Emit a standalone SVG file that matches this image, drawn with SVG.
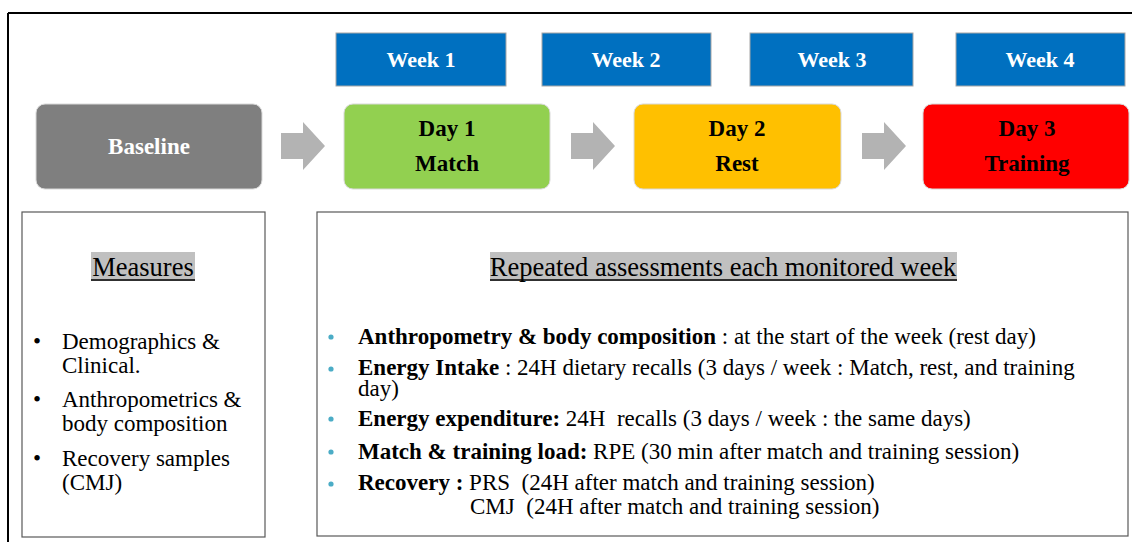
<svg xmlns="http://www.w3.org/2000/svg" width="1132" height="542" viewBox="0 0 1132 542">
  <style>
    .wk { fill: #0070c0; stroke: #a6a6a6; stroke-width: 1; }
    .wkt { font-family: "Liberation Serif", "DejaVu Serif", serif; font-weight: bold; font-size: 22px; fill: #ffffff; text-anchor: middle; }
    .day { stroke: #d9d9d9; stroke-width: 1; }
    .dayt { font-family: "Liberation Serif", "DejaVu Serif", serif; font-weight: bold; font-size: 23px; fill: #000000; text-anchor: middle; }
    .arrow { fill: #b3b3b3; }
    .panel { fill: #ffffff; stroke: #595959; stroke-width: 1.2; }
    .txt { font-family: "Liberation Serif", "DejaVu Serif", serif; font-size: 23px; fill: #000000; }
    .ttl { font-family: "Liberation Serif", "DejaVu Serif", serif; font-size: 26.5px; fill: #000000; text-anchor: middle; }
    .b { font-weight: bold; }
    .hl { fill: #c0c0c0; }
    .ul { stroke: #000000; stroke-width: 1.4; }
    .dot { fill: #4bacc6; }
  </style>

  <rect width="1132" height="542" fill="#ffffff"/>

  <!-- outer frame edges -->
  <line x1="8" y1="13" x2="1132" y2="13" stroke="#000000" stroke-width="2"/>
  <line x1="8" y1="13" x2="8" y2="542" stroke="#000000" stroke-width="2"/>

  <!-- week headers -->
  <g id="week1"><rect class="wk" x="336" y="33" width="170" height="53"/><text class="wkt" x="421" y="67">Week 1</text></g>
  <g id="week2"><rect class="wk" x="542" y="33" width="169" height="53"/><text class="wkt" x="626" y="67">Week 2</text></g>
  <g id="week3"><rect class="wk" x="750" y="33" width="163" height="53"/><text class="wkt" x="832" y="67">Week 3</text></g>
  <g id="week4"><rect class="wk" x="956" y="33" width="169" height="53"/><text class="wkt" x="1040" y="67">Week 4</text></g>

  <!-- phase boxes -->
  <g id="baseline"><rect class="day" x="36" y="104" width="226" height="85" rx="9" fill="#7f7f7f"/><text class="dayt" x="149" y="154" style="fill:#ffffff">Baseline</text></g>
  <g id="day1"><rect class="day" x="344" y="104" width="206" height="85" rx="9" fill="#92d050"/><text class="dayt" x="447" y="136">Day 1</text><text class="dayt" x="447" y="171">Match</text></g>
  <g id="day2"><rect class="day" x="634" y="104" width="207" height="85" rx="9" fill="#ffc000"/><text class="dayt" x="737" y="136">Day 2</text><text class="dayt" x="737" y="171">Rest</text></g>
  <g id="day3"><rect class="day" x="923" y="104" width="206" height="85" rx="9" fill="#ff0000"/><text class="dayt" x="1027" y="136">Day 3</text><text class="dayt" x="1027" y="171">Training</text></g>

  <!-- connectors -->
  <g id="connectors">
    <polygon class="arrow" points="281,133 303,133 303,122 325,146 303,170 303,159 281,159"/>
    <polygon class="arrow" points="571,133 593,133 593,122 615,146 593,170 593,159 571,159"/>
    <polygon class="arrow" points="862,133 884,133 884,122 906,146 884,170 884,159 862,159"/>
  </g>

  <!-- baseline measures panel -->
  <g id="measures">
    <rect class="panel" x="22" y="212" width="243" height="325"/>
    <rect class="hl" x="91" y="252" width="104" height="29"/>
    <text class="ttl" x="143" y="276">Measures</text>
    <line class="ul" x1="91" y1="280" x2="195" y2="280"/>
    <text class="txt" x="33" y="349">•</text>
    <text class="txt" x="62" y="349">Demographics &amp;</text>
    <text class="txt" x="62" y="373">Clinical.</text>
    <text class="txt" x="33" y="407">•</text>
    <text class="txt" x="62" y="407">Anthropometrics &amp;</text>
    <text class="txt" x="62" y="431">body composition</text>
    <text class="txt" x="33" y="466">•</text>
    <text class="txt" x="62" y="466">Recovery samples</text>
    <text class="txt" x="62" y="490">(CMJ)</text>
  </g>

  <!-- weekly assessments panel -->
  <g id="assessments">
    <rect class="panel" x="317" y="212" width="811" height="324"/>
    <rect class="hl" x="490" y="252" width="467" height="29"/>
    <text class="ttl" x="723" y="276">Repeated assessments each monitored week</text>
    <line class="ul" x1="490" y1="280" x2="957" y2="280"/>

    <circle class="dot" cx="331" cy="337" r="2.6"/>
    <text class="txt" x="358" y="344"><tspan class="b">Anthropometry &amp; body composition</tspan> : at the start of the week (rest day)</text>
    <circle class="dot" cx="331" cy="369" r="2.6"/>
    <text class="txt" x="358" y="375"><tspan class="b">Energy Intake</tspan> : 24H dietary recalls (3 days / week : Match, rest, and training</text>
    <text class="txt" x="358" y="396">day)</text>
    <circle class="dot" cx="331" cy="419" r="2.6"/>
    <text class="txt" x="358" y="426"><tspan class="b">Energy expenditure:</tspan> 24H&#160; recalls (3 days / week : the same days)</text>
    <circle class="dot" cx="331" cy="452" r="2.6"/>
    <text class="txt" x="358" y="459"><tspan class="b">Match &amp; training load:</tspan> RPE (30 min after match and training session)</text>
    <circle class="dot" cx="331" cy="484" r="2.6"/>
    <text class="txt" x="358" y="490"><tspan class="b">Recovery :</tspan> PRS&#160; (24H after match and training session)</text>
    <text class="txt" x="470" y="514">CMJ&#160; (24H after match and training session)</text>
  </g>
</svg>
